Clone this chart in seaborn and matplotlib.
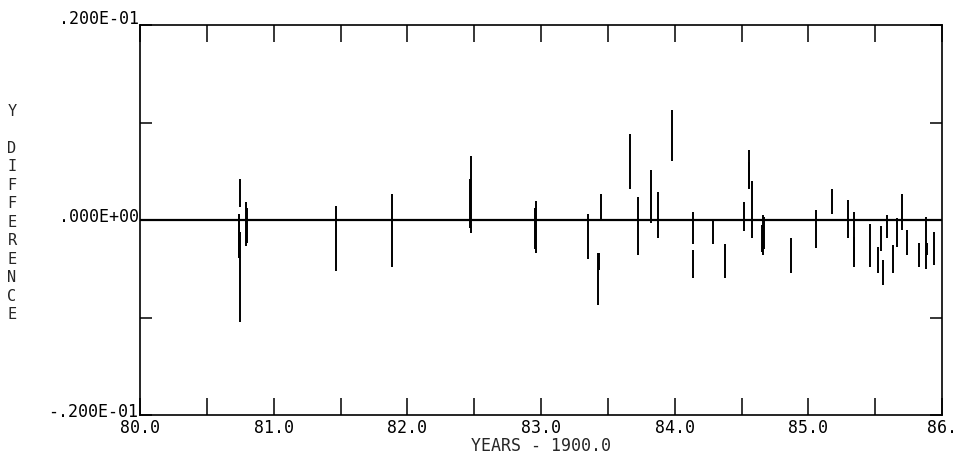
import numpy as np
import pandas as pd
import matplotlib
matplotlib.use('Agg')
import matplotlib.pyplot as plt
import matplotlib.transforms as mtransforms
import seaborn as sns

sns.set_style('white', {'axes.edgecolor': 'black'})
plt.rcParams['font.family'] = ['DejaVu Sans Mono', 'DejaVu Sans']

# epoch (years - 1900) and the low / high end of each difference bar
years = [80.748, 80.738, 80.744, 80.748, 80.790, 80.800, 81.464, 81.883,
         82.475, 82.470, 82.962, 82.955, 83.349, 83.446, 83.428, 83.432,
         83.666, 83.723, 83.823, 83.878, 83.978, 84.140, 84.140, 84.290,
         84.378, 84.520, 84.557, 84.553, 84.580, 84.660, 84.665, 84.655,
         84.870, 85.060, 85.176, 85.300, 85.340, 85.338, 85.460, 85.520,
         85.540, 85.560, 85.590, 85.630, 85.660, 85.700, 85.740, 85.830,
         85.880, 85.885, 85.940]
diff_low = [0.0013, -0.0039, -0.0039, -0.0105, -0.0027, -0.0024, -0.0052, -0.0048,
            -0.0013, -0.0008, -0.0034, -0.0030, -0.0040, 0.0000, -0.0087, -0.0051,
            0.0032, -0.0036, -0.0003, -0.0018, 0.0061, -0.0025, -0.0059, -0.0025,
            -0.0059, -0.0011, 0.0032, 0.0033, -0.0018, -0.0036, -0.0030, -0.0033,
            -0.0054, -0.0029, 0.00065, -0.0018, -0.0048, -0.0041, -0.0048, -0.0054,
            -0.0032, -0.0067, -0.0018, -0.0054, -0.0028, -0.0010, -0.0036, -0.0048,
            -0.0050, -0.0036, -0.0046]
diff_high = [0.0042, 0.0006, 0.0006, -0.0012, 0.0018, 0.0012, 0.0014, 0.0027,
             0.0066, 0.0042, 0.0020, 0.0012, 0.0006, 0.0027, -0.0034, -0.0034,
             0.0088, 0.0024, 0.0051, 0.0029, 0.0113, 0.0008, -0.0031, -0.0001,
             -0.0025, 0.0018, 0.0072, 0.0059, 0.0040, 0.0005, 0.0003, -0.0005,
             -0.0018, 0.0010, 0.0032, 0.0021, 0.0008, -0.0017, -0.0004, -0.0028,
             -0.0006, -0.0041, 0.0005, -0.0026, 0.0002, 0.0027, -0.0010, -0.0024,
             0.0003, -0.0024, -0.0012]

x_ticks = [80.0, 80.5, 81.0, 81.5, 82.0, 82.5, 83.0, 83.5, 84.0, 84.5, 85.0, 85.5, 86.0]
x_labels = ['80.0', '', '81.0', '', '82.0', '', '83.0', '', '84.0', '', '85.0', '', '86.']
y_ticks = [-0.02, -0.01, 0.0, 0.01, 0.02]
y_labels = ['-.200E-01', '', '.000E+00', '', '.200E-01']

df = pd.DataFrame({'year': years, 'low': diff_low, 'high': diff_high})

fig = plt.figure(figsize=(9.66, 4.56), dpi=100)
ax = fig.add_axes([140 / 966, 40 / 456, 802 / 966, 390 / 456])

ax.axhline(0, color='black', lw=1.6, zorder=2)
ax.vlines(df['year'], df['low'], df['high'], color='black', lw=1.4, zorder=3)

ax.set_xlim(80, 86)
ax.set_ylim(-0.02, 0.02)
ax.set_xticks(x_ticks)
ax.set_xticklabels(x_labels, fontsize=12)
ax.set_yticks(y_ticks)
ax.set_yticklabels(y_labels, fontsize=12)
ax.tick_params(axis='x', direction='in', length=12, width=1.1, top=True, bottom=True,
               pad=2, colors='black')
ax.tick_params(axis='y', direction='in', length=8.5, width=1.1, left=True, right=True,
               pad=1, colors='black')
for s in ax.spines.values():
    s.set_linewidth(1.2)

# y labels sit a bit above their ticks
shifts = [6, 0, 6, 0, 9]
for lab, dy in zip(ax.get_yticklabels(), shifts):
    lab.set_transform(lab.get_transform() +
                      mtransforms.ScaledTranslation(0, dy / 100, fig.dpi_scale_trans))

ax.set_xlabel('YEARS - 1900.0', fontsize=12, labelpad=0)
fig.text(12 / 966, 1 - 104 / 456, 'Y\n\nD\nI\nF\nF\nE\nR\nE\nN\nC\nE',
         ha='center', va='top', fontsize=11, linespacing=1.29)

fig.savefig('out.png', dpi=100)
